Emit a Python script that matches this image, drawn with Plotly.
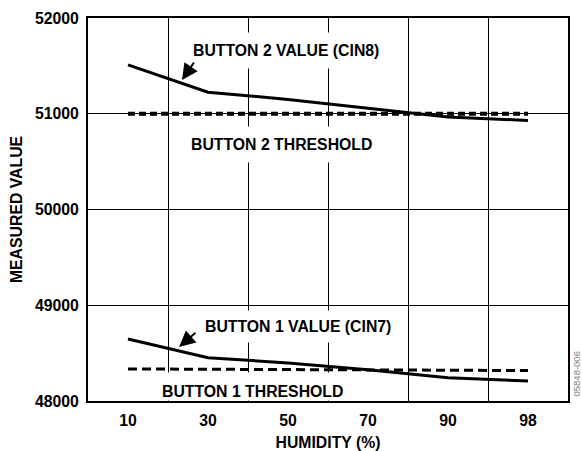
import plotly.graph_objects as go

# Relative humidity steps (%) and measured CDC values
humidity = ["10", "30", "50", "70", "90", "98"]
button2_value = [51510, 51225, 51150, 51060, 50965, 50930]
button2_threshold = [51000, 51000, 51000, 51000, 51000, 51000]
button1_value = [48648, 48452, 48398, 48327, 48243, 48209]
button1_threshold = [48335, 48333, 48330, 48326, 48322, 48318]

y_ticks = [48000, 49000, 50000, 51000, 52000]

FONT = "Liberation Sans, Arial, Helvetica, sans-serif"
FS = 15.8

# plot-area geometry in pixels (used for placing labels in paper units)
W, H = 582, 451
L, R, T, B = 88, 14, 18, 50
PW, PH = W - L - R, H - T - B


def px(x):
    return (x - L) / PW


def py(y):
    return 1 - (y - T) / PH


fig = go.Figure()

fig.add_trace(go.Scatter(x=humidity, y=button2_threshold, mode="lines",
                         line=dict(color="black", width=4, dash="7px,4px")))
fig.add_trace(go.Scatter(x=humidity, y=button2_value, mode="lines",
                         line=dict(color="black", width=3)))
fig.add_trace(go.Scatter(x=humidity, y=button1_threshold, mode="lines",
                         line=dict(color="black", width=3, dash="9px,5px")))
fig.add_trace(go.Scatter(x=humidity, y=button1_value, mode="lines",
                         line=dict(color="black", width=3)))

label_font = dict(family=FONT, size=FS, color="black", weight="bold")

# curve labels on white boxes that mask the grid behind them
labels = [
    ("BUTTON 2 VALUE (CIN8)", 286, 50.8, 9),
    ("BUTTON 2 THRESHOLD", 281, 144.2, 9),
    ("BUTTON 1 VALUE (CIN7)", 297.5, 326.7, 7),
]
for text, x, y, pad in labels:
    fig.add_annotation(text=text, xref="paper", yref="paper", x=px(x), y=py(y),
                       xanchor="center", yanchor="middle", showarrow=False,
                       font=label_font, bgcolor="white", borderpad=pad)

# bottom label: fixed-height box so the plot frame stays visible below it
fig.add_annotation(text="BUTTON 1 THRESHOLD", xref="paper", yref="paper",
                   x=px(252.3), y=py(372), xanchor="center", yanchor="top",
                   height=27, valign="bottom", borderpad=0, showarrow=False,
                   font=label_font, bgcolor="white")

# pointer arrows onto the value curves
arrows = [((182, 80), (195, 61)), ((179, 347), (197, 331.5))]
for (hx, hy), (tx, ty) in arrows:
    fig.add_annotation(text="", xref="paper", yref="paper", x=px(hx), y=py(hy),
                       ax=tx - hx, ay=ty - hy, showarrow=True, arrowhead=2,
                       arrowsize=1.6, arrowwidth=2, arrowcolor="black")

fig.add_annotation(text="05848-006", xref="paper", yref="paper",
                   x=px(575.5), y=py(374), textangle=-90, showarrow=False,
                   xanchor="center", yanchor="middle",
                   font=dict(family=FONT, size=9.5, color="#808080"))

fig.update_layout(
    width=W, height=H,
    margin=dict(l=L, r=R, t=T, b=B),
    paper_bgcolor="white", plot_bgcolor="white",
    showlegend=False,
    font=dict(family=FONT, size=FS, color="black"),
)

fig.update_xaxes(
    type="category", tickson="boundaries", ticks="", automargin=False,
    showgrid=True, gridcolor="black", gridwidth=1,
    showline=True, linecolor="black", linewidth=2, mirror=True,
    tickfont=dict(family=FONT, size=FS, color="black", weight="bold"),
    ticklabelstandoff=4,
    title=dict(text="HUMIDITY (%)", standoff=10,
               font=dict(family=FONT, size=FS, color="black", weight="bold")),
    range=[-0.5, 5.5],
)
fig.update_yaxes(
    range=[48000, 52000], tickvals=y_ticks, tickformat="d", ticks="",
    automargin=False,
    showgrid=True, gridcolor="black", gridwidth=1, zeroline=False,
    showline=True, linecolor="black", linewidth=2, mirror=True,
    tickfont=dict(family=FONT, size=FS, color="black", weight="bold"),
    ticklabelstandoff=4,
    title=dict(text="MEASURED VALUE", standoff=8,
               font=dict(family=FONT, size=FS, color="black", weight="bold")),
)

fig.write_html("out.html")
